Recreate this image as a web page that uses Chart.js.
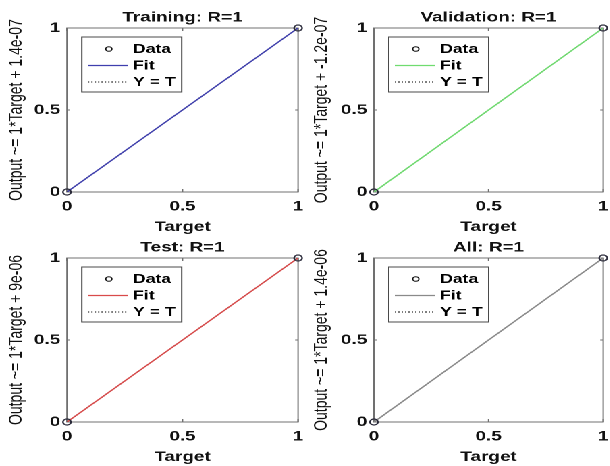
<!DOCTYPE html>
<html>
<head>
<meta charset="utf-8">
<script src="https://cdn.jsdelivr.net/npm/chart.js@4.4.1/dist/chart.umd.min.js"></script>
<style>
  html, body { margin: 0; padding: 0; background: #ffffff; }
  body { width: 610px; height: 466px; overflow: hidden; position: relative; }
  /* figure is laid out at narrow width and widened horizontally */
  #figure { position: absolute; left: 0; top: 0; width: 452px; height: 466px;
            transform: scaleX(1.35); transform-origin: 0 0; }
  #figure canvas { position: absolute; }
</style>
</head>
<body>
<div id="figure">
  <canvas id="p0" width="226" height="236" style="left:0px;top:0px"></canvas>
  <canvas id="p1" width="226" height="236" style="left:226px;top:0px"></canvas>
  <canvas id="p2" width="226" height="236" style="left:0px;top:230px"></canvas>
  <canvas id="p3" width="226" height="236" style="left:226px;top:230px"></canvas>
</div>
<script>
// Regression results: targets vs network outputs for each data split
const panelTitles = ['Training: R=1', 'Validation: R=1', 'Test: R=1', 'All: R=1'];
const targetValues = [0, 1];
const trainingOutput = [0, 1];
const validationOutput = [0, 1];
const testOutput = [0, 1];
const allOutput = [0, 1];
const fitSlopes = [1, 1, 1, 1];
const fitIntercepts = [1.4e-7, -1.2e-7, 9e-6, 1.4e-6];
const yAxisTitles = [
  'Output ~= 1*Target + 1.4e-07',
  'Output ~= 1*Target + -1.2e-07',
  'Output ~= 1*Target + 9e-06',
  'Output ~= 1*Target + 1.4e-06'
];
const tickValues = [0, 0.5, 1];
const legendLabels = ['Data', 'Fit', 'Y = T'];

const panelOutputs = [trainingOutput, validationOutput, testOutput, allOutput];
const fitColors = ['#3f3fae', '#6fdc6f', '#d94a4a', '#8a8a8a'];

const FONT = "'Liberation Sans', Arial, Helvetica, sans-serif";
const TEXT = '#111111';

// Panel title, axes box and inward tick marks
const framePlugin = {
  id: 'frame',
  beforeDatasetsDraw(chart) {
    const {ctx, chartArea: a, scales: {x, y}} = chart;
    ctx.save();
    ctx.strokeStyle = '#707070';
    ctx.lineWidth = 1;
    ctx.strokeRect(a.left, a.top, a.right - a.left, a.bottom - a.top);
    ctx.beginPath();
    tickValues.forEach(v => {
      const px = x.getPixelForValue(v);
      ctx.moveTo(px, a.bottom); ctx.lineTo(px, a.bottom - 3);
      ctx.moveTo(px, a.top); ctx.lineTo(px, a.top + 3);
      const py = y.getPixelForValue(v);
      ctx.moveTo(a.left, py); ctx.lineTo(a.left + 2.2, py);
      ctx.moveTo(a.right, py); ctx.lineTo(a.right - 2.2, py);
    });
    ctx.stroke();
    ctx.restore();
  },
  afterDraw(chart, args, opts) {
    const {ctx, chartArea: a} = chart;
    ctx.save();
    ctx.fillStyle = TEXT;
    ctx.font = 'bold 14px ' + FONT;
    ctx.textAlign = 'center';
    ctx.textBaseline = 'middle';
    ctx.fillText(opts.text, (a.left + a.right) / 2, 17.5);
    ctx.restore();
  }
};

// Legend box inside the upper-left corner of the axes
const insetLegend = {
  id: 'insetLegend',
  afterDraw(chart) {
    const {ctx, chartArea: a} = chart;
    const ds = chart.data.datasets;
    const bx = a.left + 11, by = a.top + 9, bw = 74, bh = 55;
    ctx.save();
    ctx.fillStyle = '#ffffff';
    ctx.fillRect(bx, by, bw, bh);
    ctx.strokeStyle = '#4a4a4a';
    ctx.lineWidth = 1;
    ctx.strokeRect(bx, by, bw, bh);
    const rows = [by + 12, by + 28.5, by + 45];
    ds.forEach((d, i) => {
      const ry = rows[i];
      if (d.showLine === false) {
        ctx.beginPath();
        ctx.strokeStyle = '#111';
        ctx.lineWidth = 1;
        ctx.arc(bx + 20, ry, 2.3, 0, Math.PI * 2);
        ctx.stroke();
      } else {
        ctx.beginPath();
        ctx.strokeStyle = d.borderColor;
        ctx.lineWidth = d.borderWidth;
        ctx.setLineDash(d.borderDash || []);
        ctx.moveTo(bx + 4.5, ry);
        ctx.lineTo(bx + 34, ry);
        ctx.stroke();
        ctx.setLineDash([]);
      }
      ctx.fillStyle = '#000';
      ctx.font = 'bold 13px ' + FONT;
      ctx.textAlign = 'left';
      ctx.textBaseline = 'middle';
      ctx.fillText(d.label, bx + 38, ry + 0.5);
    });
    ctx.restore();
  }
};

function makePanel(i) {
  const outputs = panelOutputs[i];
  const isLeft = i % 2 === 0;
  const dataPoints = targetValues.map((t, k) => ({x: t, y: outputs[k]}));
  const fitPoints = targetValues.map(t => ({x: t, y: fitSlopes[i] * t + fitIntercepts[i]}));
  const identity = targetValues.map(t => ({x: t, y: t}));

  new Chart(document.getElementById('p' + i), {
    type: 'scatter',
    data: {
      datasets: [
        { label: legendLabels[0], data: dataPoints, showLine: false,
          pointStyle: 'circle', pointRadius: 3, pointBorderWidth: 1.2,
          borderColor: '#2a2a3a', backgroundColor: 'rgba(0,0,0,0)', clip: false },
        { label: legendLabels[1], data: fitPoints, showLine: true,
          borderColor: fitColors[i], borderWidth: 1.2, pointRadius: 0, fill: false },
        { label: legendLabels[2], data: identity, showLine: true,
          borderColor: '#000000', borderWidth: 1, borderDash: [1, 1.5], pointRadius: 0, fill: false }
      ]
    },
    options: {
      responsive: false,
      animation: false,
      devicePixelRatio: 2,
      layout: { padding: { left: 0, right: isLeft ? 5 : 3, top: 28, bottom: 0 } },
      plugins: {
        legend: { display: false },
        tooltip: { enabled: false },
        frame: { text: panelTitles[i] }
      },
      scales: {
        x: {
          type: 'linear', position: 'bottom', min: 0, max: 1,
          afterBuildTicks: s => { s.ticks = tickValues.map(v => ({value: v})); },
          afterFit: s => { s.height = 44; s.paddingLeft = 0; s.paddingRight = 0; },
          grid: { display: false, drawTicks: false },
          border: { display: false },
          ticks: { padding: 6, color: TEXT, font: { family: FONT, size: 14, weight: 'bold' },
                   maxRotation: 0, callback: v => String(v) },
          title: { display: true, text: 'Target', color: TEXT,
                   font: { family: FONT, size: 14, weight: 'bold' }, padding: { top: 0, bottom: 0.5 } }
        },
        y: {
          type: 'linear', position: 'left', min: 0, max: 1,
          afterBuildTicks: s => { s.ticks = tickValues.map(v => ({value: v})); },
          afterFit: s => { s.width = isLeft ? 49.6 : 51; s.paddingTop = 0; s.paddingBottom = 0; },
          grid: { display: false, drawTicks: false },
          border: { display: false },
          ticks: { padding: 5, color: TEXT, font: { family: FONT, size: 14, weight: 'bold' },
                   callback: v => String(v) },
          title: { display: true, text: yAxisTitles[i], color: TEXT,
                   font: { family: FONT, size: 14, weight: 'normal' }, padding: { top: 3.5, bottom: 0 } }
        }
      }
    },
    plugins: [framePlugin, insetLegend]
  });
}

[0, 1, 2, 3].forEach(makePanel);
</script>
</body>
</html>
